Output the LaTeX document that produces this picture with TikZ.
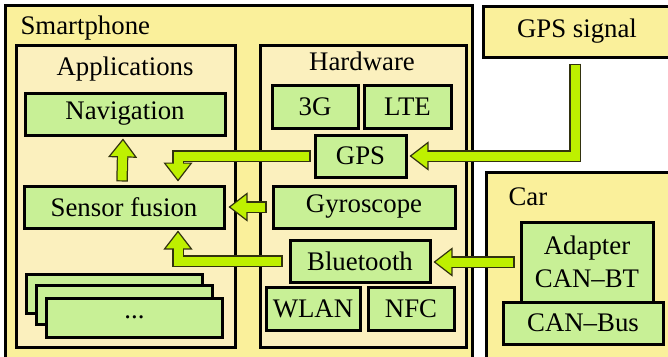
\documentclass[tikz,border=0pt]{standalone}
\usepackage{fontspec}
\setmainfont{Liberation Serif}
\usetikzlibrary{arrows.meta}
\definecolor{phonefill}{RGB}{250,240,155}
\definecolor{panelfill}{RGB}{251,240,190}
\definecolor{unitfill}{RGB}{200,240,150}
\definecolor{flowfill}{RGB}{190,240,0}
\definecolor{flowedge}{RGB}{50,50,15}
\begin{document}
\begin{tikzpicture}[x=1pt,y=-1pt,
    font=\fontsize{26.8}{33}\selectfont,
    frame/.style={draw,line width=3pt,fill=phonefill,inner sep=0pt},
    panel/.style={draw,line width=3pt,fill=panelfill},
    unit/.style={draw,line width=3pt,fill=unitfill,inner sep=0pt},
    flow/.style={draw=flowedge,line width=11.5pt,line join=miter,
      -{Triangle[length=19pt,width=29pt,fill=flowfill,line width'=1.2pt]},
      postaction={draw=flowfill,line width=9pt,-,shorten <=1.2pt,shorten >=17pt}}]
  \useasboundingbox (0,0) rectangle (668,356);
  \clip (0,0) rectangle (668,356);
  \draw[frame] (5,5) rectangle (472,365);
  \node[anchor=base west] (phonetitle) at (17,34) {Smartphone};
  \node[frame,minimum width=188,minimum height=51] (gpssig) at (577,31.5) {GPS signal};
  \draw[frame] (486,172) rectangle (690,365);
  \node[anchor=base west] (cartitle) at (505,205) {Car};
  \draw[panel] (16,45) rectangle (235,347);
  \node[anchor=base] (apptitle) at (125,75) {Applications};
  \draw[panel] (260,45) rectangle (466,347);
  \node[anchor=base] (hwtitle) at (362,70) {Hardware};
  \node[unit,minimum width=200,minimum height=42] (nav) at (125,114) {Navigation};
  \node[unit,minimum width=200,minimum height=42] (sensor) at (124,207) {Sensor fusion};
  \node[unit,minimum width=176,minimum height=39] (more3) at (114,293.5) {};
  \node[unit,minimum width=176,minimum height=39] (more2) at (124,305) {};
  \node[unit,minimum width=176,minimum height=39] (more1) at (134.5,317.5) {...};
  \node[unit,minimum width=86,minimum height=43] (threeg) at (315,106.5) {3G};
  \node[unit,minimum width=87,minimum height=43] (lte) at (407.5,106.5) {LTE};
  \node[unit,minimum width=91,minimum height=42] (gps) at (360.5,156) {GPS};
  \node[unit,minimum width=182,minimum height=42] (gyro) at (364,207) {Gyroscope};
  \node[unit,minimum width=140,minimum height=42] (bt) at (360,261) {Bluetooth};
  \node[unit,minimum width=94,minimum height=43] (wlan) at (313,308.5) {WLAN};
  \node[unit,minimum width=86,minimum height=43] (nfc) at (411,308.5) {NFC};
  \node[unit,minimum width=132,minimum height=80,align=center] (adapter) at (587,262) {Adapter\\CAN–BT};
  \node[unit,minimum width=160,minimum height=42] (canbus) at (583,323) {CAN–Bus};
  \draw[flow] ([xshift=-2pt,yshift=-5pt]gpssig.south) |- ([xshift=2pt]gps.east);
  \draw[flow] ([xshift=-3pt]gps.west) -| ([xshift=54pt,yshift=3pt]sensor.north);
  \draw[flow] ([xshift=-2pt,yshift=3pt]sensor.north) -- ([xshift=-2pt,yshift=-2pt]nav.south);
  \draw[flow] ([xshift=-5pt]gyro.west) -- ([xshift=3pt]sensor.east);
  \draw[flow] ([xshift=-6pt]bt.west) -| ([xshift=54pt,yshift=-1pt]sensor.south);
  \draw[flow] ([xshift=-5pt]adapter.west) -- ([xshift=2pt]adapter.west -| bt.east);
\end{tikzpicture}
\end{document}
